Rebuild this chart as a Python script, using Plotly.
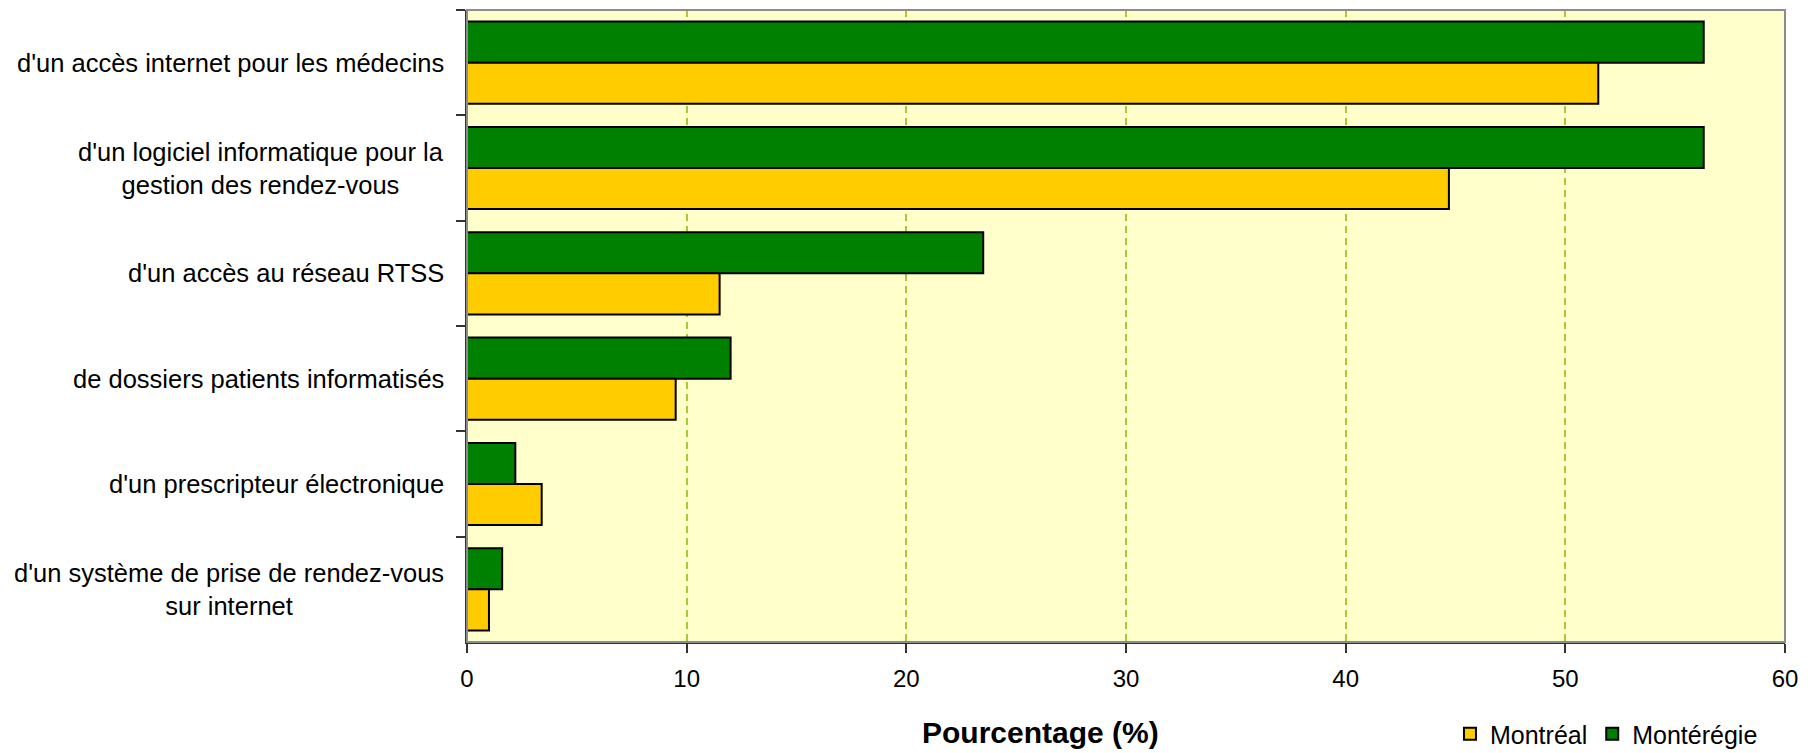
import plotly.graph_objects as go

categories = [
    "d'un accès internet pour les médecins",
    "d'un logiciel informatique pour la<br>gestion des rendez-vous",
    "d'un accès au réseau RTSS",
    "de dossiers patients informatisés",
    "d'un prescripteur électronique",
    "d'un système de prise de rendez-vous<br>sur internet",
]
monteregie = [56.3, 56.3, 23.5, 12.0, 2.2, 1.6]
montreal = [51.5, 44.7, 11.5, 9.5, 3.4, 1.0]
x_ticks = [0, 10, 20, 30, 40, 50, 60]
x_title = "Pourcentage (%)"

FONT = "Liberation Sans, Arial, sans-serif"
# page body has an 8px default margin; figure sized to fill the rest
W, H = 1810, 745
ML, MR, MT, MB = 459, 33, 2, 111

fig = go.Figure()
fig.add_trace(go.Bar(
    y=categories, x=monteregie, name="Montérégie", orientation="h",
    marker=dict(color="#008000", line=dict(color="#000000", width=2)),
))
fig.add_trace(go.Bar(
    y=categories, x=montreal, name="Montréal", orientation="h",
    marker=dict(color="#FFCC00", line=dict(color="#000000", width=2)),
))

# category labels (centered multi-line, right-anchored next to axis)
for c in categories:
    fig.add_annotation(
        x=0, xref="paper", y=c, yref="y", text=c, showarrow=False,
        xanchor="right", yanchor="middle", align="center", xshift=-21,
        font=dict(family=FONT, size=25.5, color="#000000"),
    )

fig.add_annotation(
    x=0.4348, xref="paper", y=-0.1429, yref="paper", text="<b>" + x_title + "</b>",
    showarrow=False, xanchor="center", yanchor="middle",
    font=dict(family=FONT, size=30, color="#000000"),
)

# plot border (gray, top/right)
fig.add_shape(type="rect", xref="paper", yref="paper", x0=0, x1=1, y0=0, y1=1,
              line=dict(color="#8C8C8C", width=2), layer="above")

fig.update_layout(
    width=W, height=H,
    margin=dict(l=ML, r=MR, t=MT, b=MB, pad=0, autoexpand=False),
    paper_bgcolor="#FFFFFF",
    plot_bgcolor="#FFFFCC",
    barmode="group", bargap=0.22, bargroupgap=0,
    font=dict(family=FONT, size=25, color="#000000"),
    showlegend=True,
    legend=dict(
        orientation="h", x=0.9696, xanchor="right", xref="container",
        y=0.0255, yanchor="middle", yref="container", traceorder="reversed",
        font=dict(family=FONT, size=25, color="#000000"),
        bgcolor="rgba(0,0,0,0)", itemwidth=30,
    ),
    xaxis=dict(
        range=[0, 60], tickvals=x_ticks, ticktext=[str(v) for v in x_ticks],
        showgrid=True, gridcolor="#A8C83C", griddash="7px,5px", gridwidth=1.5,
        zeroline=False, showline=True, linecolor="#333333", linewidth=2,
        ticks="outside", ticklen=9, tickwidth=1.5, tickcolor="#333333",
        ticklabelstandoff=5, automargin=False,
        tickfont=dict(family=FONT, size=24), fixedrange=True,
    ),
    yaxis=dict(
        autorange="reversed", showticklabels=False, tickson="boundaries",
        ticks="outside", ticklen=9, tickwidth=1.5, tickcolor="#333333",
        showgrid=False, zeroline=False, showline=True, linecolor="#333333",
        linewidth=2, fixedrange=True, automargin=False,
    ),
)

fig.write_html("out.html")
